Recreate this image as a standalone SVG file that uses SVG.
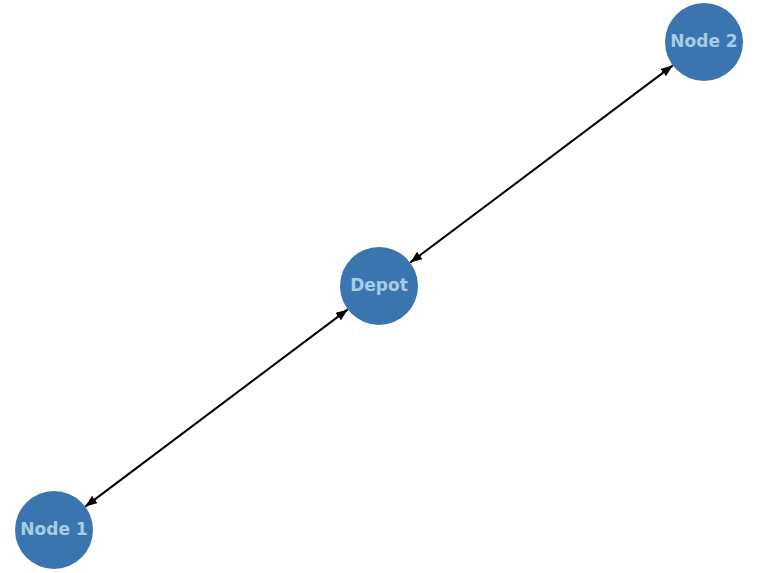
<svg xmlns="http://www.w3.org/2000/svg" width="759" height="573" viewBox="0 0 759 573">
  <style>
    .node { fill: #3a75af; }
    .label { font-family: "DejaVu Sans", sans-serif; font-weight: bold; font-size: 17px; fill: #a6cee3; text-anchor: middle; dominant-baseline: central; }
    .edge { stroke: #000; stroke-width: 2; fill: none; marker-start: url(#ah); marker-end: url(#ah); }
  </style>
  <defs>
    <marker id="ah" viewBox="0 0 12 9" refX="12" refY="4.5" markerWidth="12" markerHeight="9" markerUnits="userSpaceOnUse" orient="auto-start-reverse">
      <path d="M0,0 L12,4.5 L0,9 Z" fill="#000"/>
    </marker>
  </defs>
  <rect width="759" height="573" fill="#fff"/>
  <g id="connectors">
    <line class="edge" x1="410.2" y1="262.6" x2="672.8" y2="65.4"/>
    <line class="edge" x1="347.8" y1="309.4" x2="85.2" y2="506.6"/>
  </g>
  <g id="node-depot">
    <circle class="node" cx="379" cy="286" r="39"/>
    <text class="label" x="379" y="285">Depot</text>
  </g>
  <g id="node-2">
    <circle class="node" cx="704" cy="42" r="39"/>
    <text class="label" x="704" y="41">Node 2</text>
  </g>
  <g id="node-1">
    <circle class="node" cx="54" cy="530" r="39"/>
    <text class="label" x="54" y="529">Node 1</text>
  </g>
</svg>
